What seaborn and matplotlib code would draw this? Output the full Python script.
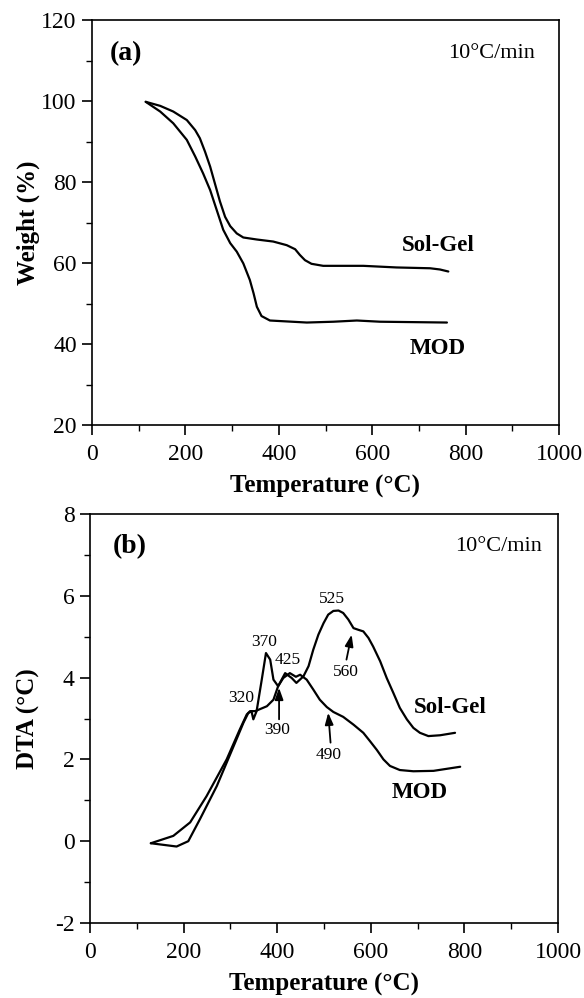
import numpy as np
import pandas as pd
import matplotlib
matplotlib.use("Agg")
import matplotlib.pyplot as plt
import seaborn as sns
from matplotlib.ticker import MultipleLocator

# ---------------- data ----------------
# Panel (a) TGA
tga_solgel_T = [115, 146, 174, 203, 221, 231, 242, 253, 263, 274, 285, 296, 310, 324, 353, 388, 417, 435, 445, 456,
                470, 495, 581, 652, 724, 745, 763]
tga_solgel_W = [99.8, 98.8, 97.4, 95.3, 92.8, 90.8, 87.5, 83.8, 79.7, 75.2, 71.4, 69.1, 67.3, 66.3, 65.8, 65.3, 64.4, 63.4, 62.0, 60.7,
                59.8, 59.3, 59.3, 58.9, 58.7, 58.4, 57.9]
tga_mod_T = [115, 146, 174, 203, 221, 238, 253, 267, 281, 296, 310, 324, 338, 346, 353, 363, 381, 460, 517, 567, 617, 760]
tga_mod_W = [99.8, 97.4, 94.5, 90.4, 86.3, 82.1, 78.0, 73.1, 68.2, 64.9, 62.8, 59.9, 55.8, 52.5, 49.2, 46.9, 45.8, 45.3, 45.5, 45.8, 45.5, 45.3]

# Panel (b) DTA
dta_solgel_T = [130, 185, 210, 235, 271, 313, 328, 338, 345, 349, 356, 367, 376, 385, 392, 402, 417, 431, 441, 456,
                467, 477, 488, 499, 509, 520, 531, 541, 552, 563, 573, 584, 595, 605, 620, 634, 648, 662, 677, 691,
                705, 723, 748, 780]
dta_solgel_V = [-0.05, -0.13, 0.0, 0.54, 1.35, 2.49, 2.9, 3.13, 3.18, 2.98, 3.18, 3.95, 4.6, 4.44, 3.95, 3.79, 4.11, 3.99, 3.87, 4.03,
                4.28, 4.68, 5.05, 5.33, 5.54, 5.63, 5.64, 5.58, 5.42, 5.21, 5.17, 5.13, 4.97, 4.76, 4.40, 3.99, 3.63, 3.26, 2.98, 2.77,
                2.65, 2.57, 2.59, 2.65]
dta_mod_T = [130, 178, 214, 249, 292, 320, 335, 342, 353, 378, 392, 402, 413, 427, 440, 449, 463, 477, 491, 506,
             520, 541, 563, 584, 598, 613, 627, 641, 662, 691, 734, 791]
dta_mod_V = [-0.05, 0.13, 0.46, 1.1, 2.0, 2.73, 3.1, 3.18, 3.18, 3.30, 3.46, 3.79, 3.99, 4.11, 4.02, 4.07, 3.95, 3.71, 3.46, 3.28,
             3.16, 3.04, 2.85, 2.65, 2.45, 2.23, 2.00, 1.84, 1.74, 1.71, 1.72, 1.82]

peak_labels = ["320", "370", "425", "525"]
peak_label_T = [324, 372, 422, 516]
peak_label_V = [3.5, 4.86, 4.44, 5.93]

arrow_labels = ["390", "490", "560"]
arrow_label_T = [400, 509, 547]
arrow_label_V = [2.73, 2.10, 4.13]
arrow_tail_T = [404, 514, 548]
arrow_tail_V = [2.98, 2.41, 4.44]
arrow_tip_T = [404, 509, 559]
arrow_tip_V = [3.75, 3.14, 5.05]

# ---------------- style ----------------
sns.set_style("ticks")
plt.rcParams['font.family'] = ['Liberation Serif', 'DejaVu Serif']
plt.rcParams['axes.unicode_minus'] = False
plt.rcParams['axes.linewidth'] = 1.2
for k in ('text.color', 'axes.labelcolor', 'xtick.color', 'ytick.color', 'axes.edgecolor'):
    plt.rcParams[k] = 'black'

fig = plt.figure(figsize=(5.84, 9.98), dpi=100)
W, H = 584, 998
def rect(l, t, r, b):
    return [l / W, 1 - b / H, (r - l) / W, (b - t) / H]

axa = fig.add_axes(rect(92, 20, 559, 425))
axb = fig.add_axes(rect(90, 514, 558, 923))

df_a = pd.concat([
    pd.DataFrame({"T": tga_solgel_T, "W": tga_solgel_W, "s": "Sol-Gel"}),
    pd.DataFrame({"T": tga_mod_T, "W": tga_mod_W, "s": "MOD"}),
])
df_b = pd.concat([
    pd.DataFrame({"T": dta_solgel_T, "V": dta_solgel_V, "s": "Sol-Gel"}),
    pd.DataFrame({"T": dta_mod_T, "V": dta_mod_V, "s": "MOD"}),
])

sns.lineplot(data=df_a, x="T", y="W", units="s", estimator=None, sort=False,
             color="black", lw=1.6, ax=axa, legend=False)
sns.lineplot(data=df_b, x="T", y="V", units="s", estimator=None, sort=False,
             color="black", lw=1.6, ax=axb, legend=False)

tick_fs = 17
label_fs = 18
for ax in (axa, axb):
    ax.set_xlim(0, 1000)
    ax.xaxis.set_major_locator(MultipleLocator(200))
    ax.xaxis.set_minor_locator(MultipleLocator(100))
    ax.tick_params(which="major", direction="out", length=7, width=1.2, labelsize=tick_fs, pad=4)
    ax.tick_params(axis="x", which="major", pad=7)
    ax.tick_params(which="minor", direction="out", length=4, width=1.0)
    for sp in ax.spines.values():
        sp.set_visible(True)
        sp.set_linewidth(1.2)
    ax.set_xlabel("Temperature (°C)", fontsize=label_fs, fontweight="bold", labelpad=7)

axa.set_ylim(20, 120)
axa.yaxis.set_major_locator(MultipleLocator(20))
axa.yaxis.set_minor_locator(MultipleLocator(10))
axa.set_ylabel("Weight (%)", fontsize=label_fs, fontweight="bold")
axa.yaxis.set_label_coords(-0.112, 0.5)

axb.set_ylim(-2, 8)
axb.yaxis.set_major_locator(MultipleLocator(2))
axb.yaxis.set_minor_locator(MultipleLocator(1))
axb.set_ylabel("DTA (°C)", fontsize=label_fs, fontweight="bold")
axb.yaxis.set_label_coords(-0.107, 0.5)

# panel texts
axa.text(38, 111.8, "(a)", fontsize=20, fontweight="bold", ha="left", va="center")
axa.text(948, 111.8, "10°C/min", fontsize=16, ha="right", va="center")
axa.text(741, 64.4, "Sol-Gel", fontsize=16.5, fontweight="bold", ha="center", va="center")
axa.text(741, 39.0, "MOD", fontsize=16.5, fontweight="bold", ha="center", va="center")

axb.text(49, 7.2, "(b)", fontsize=20, fontweight="bold", ha="left", va="center")
axb.text(966, 7.2, "10°C/min", fontsize=16, ha="right", va="center")
axb.text(769, 3.26, "Sol-Gel", fontsize=16.5, fontweight="bold", ha="center", va="center")
axb.text(705, 1.19, "MOD", fontsize=16.5, fontweight="bold", ha="center", va="center")

for lab, t, v in zip(peak_labels, peak_label_T, peak_label_V):
    axb.text(t, v, lab, fontsize=12.5, ha="center", va="center")
for lab, t, v, tt, tv, ht, hv in zip(arrow_labels, arrow_label_T, arrow_label_V,
                                      arrow_tail_T, arrow_tail_V, arrow_tip_T, arrow_tip_V):
    axb.text(t, v, lab, fontsize=12.5, ha="center", va="center")
    axb.annotate("", xy=(ht, hv), xytext=(tt, tv),
                 arrowprops=dict(arrowstyle="-|>,head_length=0.7,head_width=0.25",
                                 color="black", lw=1.3, shrinkA=0, shrinkB=0))

fig.savefig("out.png", dpi=100)
